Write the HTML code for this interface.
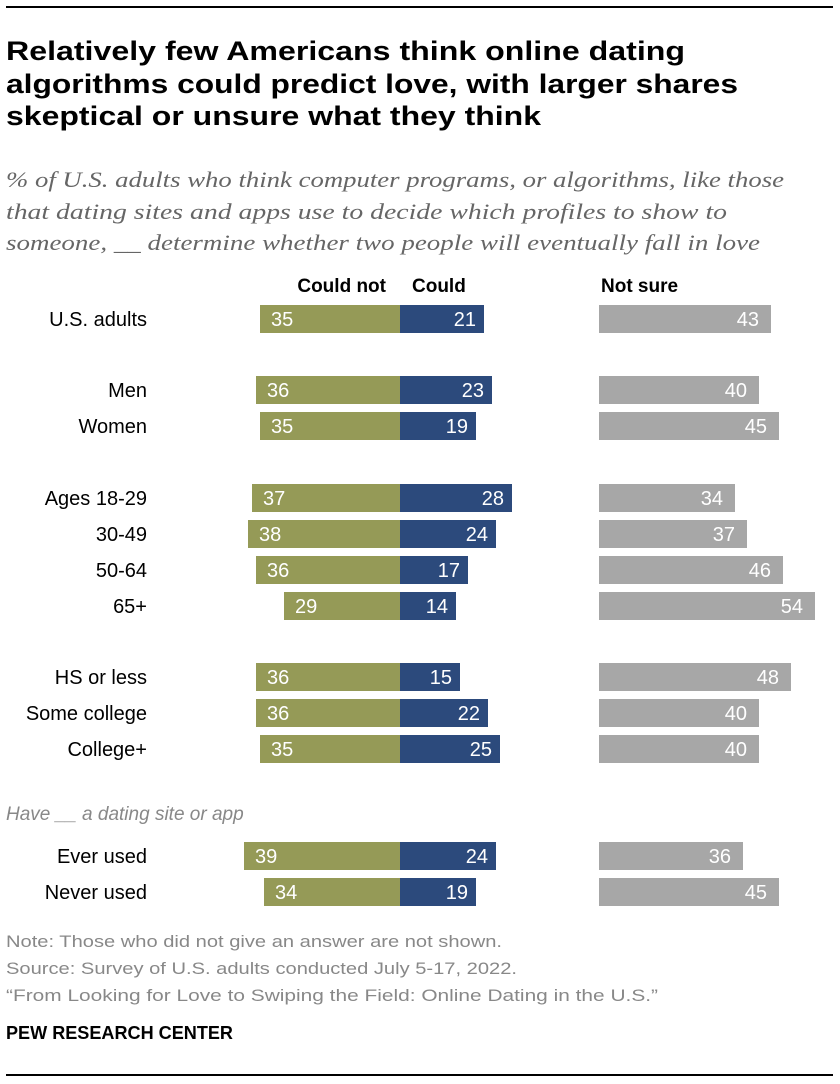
<!DOCTYPE html>
<html><head><meta charset="utf-8"><style>
html,body{margin:0;padding:0;background:#fff}
svg{display:block}
text{font-family:"Liberation Sans",sans-serif}
</style></head><body>
<svg width="840" height="1084" viewBox="0 0 840 1084">
<rect x="6" y="6" width="827" height="2" fill="#000"/>
<g font-weight="bold" font-size="27" fill="#000">
<text x="6" y="60" textLength="679" lengthAdjust="spacingAndGlyphs">Relatively few Americans think online dating</text>
<text x="6" y="93" textLength="732" lengthAdjust="spacingAndGlyphs">algorithms could predict love, with larger shares</text>
<text x="6" y="125" textLength="535" lengthAdjust="spacingAndGlyphs">skeptical or unsure what they think</text>
</g>
<g font-style="italic" font-size="22" fill="#666">
<text x="6" y="187" textLength="778" lengthAdjust="spacingAndGlyphs" style="font-family:'Liberation Serif',serif">% of U.S. adults who think computer programs, or algorithms, like those</text>
<text x="6" y="219" textLength="721" lengthAdjust="spacingAndGlyphs" style="font-family:'Liberation Serif',serif">that dating sites and apps use to decide which profiles to show to</text>
<text x="6" y="250" textLength="754" lengthAdjust="spacingAndGlyphs" style="font-family:'Liberation Serif',serif">someone, __ determine whether two people will eventually fall in love</text>
</g>
<g font-weight="bold" font-size="19" fill="#000">
<text x="386" y="292" text-anchor="end">Could not</text>
<text x="412" y="292">Could</text>
<text x="601" y="292">Not sure</text>
</g>
<text x="6" y="820" font-style="italic" font-size="19" fill="#888">Have __ a dating site or app</text>
<g id="bars"></g>
<g font-size="17" fill="#888">
<text x="6" y="947" textLength="496" lengthAdjust="spacingAndGlyphs">Note: Those who did not give an answer are not shown.</text>
<text x="6" y="974" textLength="511" lengthAdjust="spacingAndGlyphs">Source: Survey of U.S. adults conducted July 5-17, 2022.</text>
<text x="6" y="1001" textLength="652" lengthAdjust="spacingAndGlyphs">“From Looking for Love to Swiping the Field: Online Dating in the U.S.”</text>
</g>
<text x="6" y="1039" font-weight="bold" font-size="18" fill="#000" textLength="227" lengthAdjust="spacingAndGlyphs">PEW RESEARCH CENTER</text>
<rect x="6" y="1074" width="827" height="2" fill="#000"/>
</svg>
<script>
const categories = ["U.S. adults","Men","Women","Ages 18-29","30-49","50-64","65+","HS or less","Some college","College+","Ever used","Never used"];
const couldNot = [35,36,35,37,38,36,29,36,36,35,39,34];
const could = [21,23,19,28,24,17,14,15,22,25,24,19];
const notSure = [43,40,45,34,37,46,54,48,40,40,36,45];
const rowY = [319,390,426,498,534,570,606,677,713,749,856,892];
const NS="http://www.w3.org/2000/svg";
const g=document.getElementById('bars');
const k=4, center=400, nsStart=599, bh=28;
const xc=v=>v*k;
function mk(tag,attrs){const e=document.createElementNS(NS,tag);for(const a in attrs)e.setAttribute(a,attrs[a]);g.appendChild(e);return e;}
categories.forEach((c,i)=>{
  const y=rowY[i];
  const lab=mk('text',{x:147,y:y+7,'text-anchor':'end','font-size':20,fill:'#000'});
  lab.textContent=c;
  
  
  const w1=xc(couldNot[i]);
  const b1=mk('rect',{x:center-w1,y:y-bh/2,width:w1,height:bh,fill:'#959a57'});
  
  
  const t1=mk('text',{x:center-w1+11,y:y+7,'font-size':20,fill:'#fff'});
  t1.textContent=couldNot[i];
  
  
  const w2=xc(could[i]);
  const b2=mk('rect',{x:center,y:y-bh/2,width:w2,height:bh,fill:'#2c4a7c'});
  
  
  const t2=mk('text',{x:center+w2-8,y:y+7,'text-anchor':'end','font-size':20,fill:'#fff'});
  t2.textContent=could[i];
  
  
  const w3=xc(notSure[i]);
  const b3=mk('rect',{x:nsStart,y:y-bh/2,width:w3,height:bh,fill:'#a7a7a7'});
  
  
  const t3=mk('text',{x:nsStart+w3-12,y:y+7,'text-anchor':'end','font-size':20,fill:'#fff'});
  t3.textContent=notSure[i];
  
  
});
</script>
</body></html>
